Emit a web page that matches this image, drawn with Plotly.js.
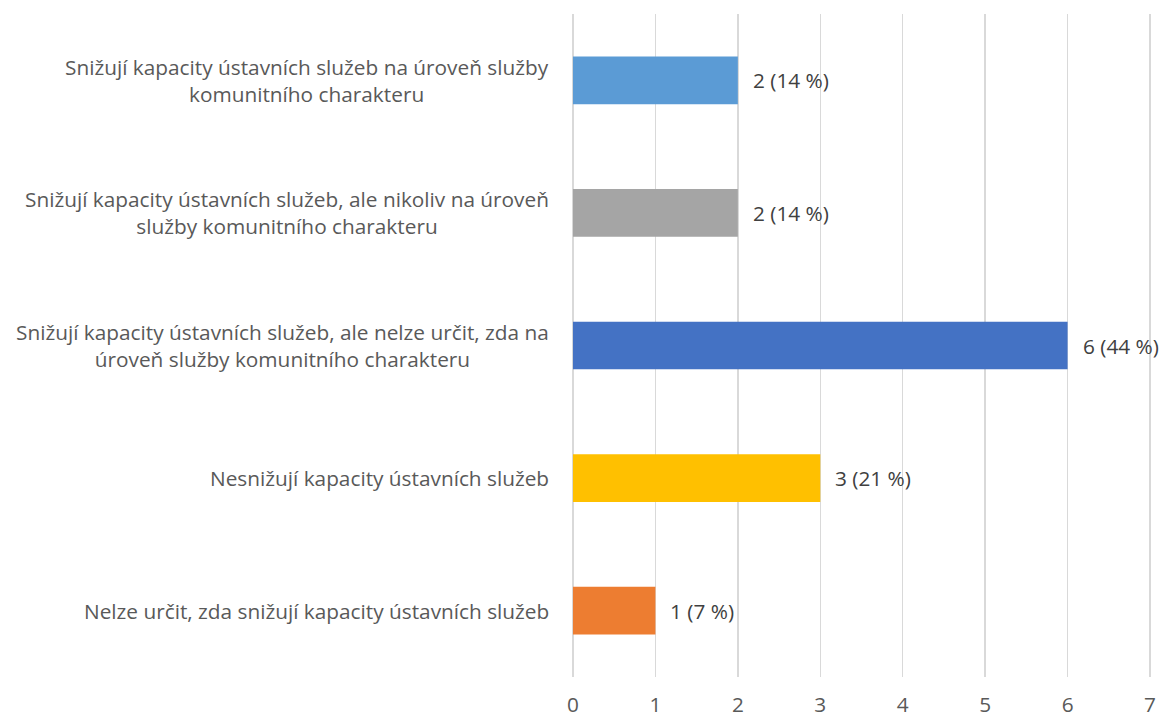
<!DOCTYPE html>
<html><head><meta charset="utf-8">
<script src="https://cdn.plot.ly/plotly-3.0.1.min.js"></script>
<style>html,body{margin:0;padding:0;background:#fff}#chart{width:1160px;height:716px}</style>
</head><body><div id="chart"></div>
<script>
const categories = [
  "Snižují kapacity ústavních služeb na úroveň služby<br>komunitního charakteru",
  "Snižují kapacity ústavních služeb, ale nikoliv na úroveň<br>služby komunitního charakteru",
  "Snižují kapacity ústavních služeb, ale nelze určit, zda na<br>úroveň služby komunitního charakteru",
  "Nesnižují kapacity ústavních služeb",
  "Nelze určit, zda snižují kapacity ústavních služeb"
];
const values = [2, 2, 6, 3, 1];
const percents = ["14 %", "14 %", "44 %", "21 %", "7 %"];
const colors = ["#5B9BD5", "#A5A5A5", "#4472C4", "#FFC000", "#ED7D31"];
const xTicks = [0, 1, 2, 3, 4, 5, 6, 7];

const FONT = "Open Sans, Liberation Sans, Arial, sans-serif";
const FS = 20.8;
const ids = categories.map((c, i) => "c" + i);

const trace = {
  type: "bar", orientation: "h",
  x: values, y: ids,
  marker: {color: colors},
  hoverinfo: "none"
};

const annotations = [];
categories.forEach((c, i) => {
  annotations.push({
    xref: "x", yref: "y", x: 0, y: ids[i], text: c,
    xanchor: "right", yanchor: "middle", align: "center", xshift: -22,
    showarrow: false, font: {family: FONT, size: FS, color: "#595959"}
  });
  annotations.push({
    xref: "x", yref: "y", x: values[i], y: ids[i],
    text: values[i] + " (" + percents[i] + ")",
    xanchor: "left", yanchor: "middle", xshift: 13,
    showarrow: false, font: {family: FONT, size: FS, color: "#404040"}
  });
});

const layout = {
  width: 1160, height: 716,
  margin: {l: 571, r: 8, t: 14, b: 39},
  paper_bgcolor: "#fff", plot_bgcolor: "#fff",
  showlegend: false,
  bargap: 0.64,
  xaxis: {
    range: [-0.024, 7.024], tickvals: xTicks, ticktext: xTicks.map(String),
    showgrid: true, gridcolor: "#D9D9D9", gridwidth: 1.5,
    zeroline: false, showline: false, ticks: "",
    ticklabelstandoff: 13,
    tickfont: {family: FONT, size: FS, color: "#595959"},
    fixedrange: true
  },
  yaxis: {
    type: "category", categoryorder: "array", categoryarray: ids,
    autorange: "reversed",
    showticklabels: false, showgrid: false, zeroline: false, showline: false, ticks: "",
    fixedrange: true
  },
  annotations: annotations
};

Plotly.newPlot("chart", [trace], layout, {displayModeBar: false, staticPlot: true});
</script></body></html>
